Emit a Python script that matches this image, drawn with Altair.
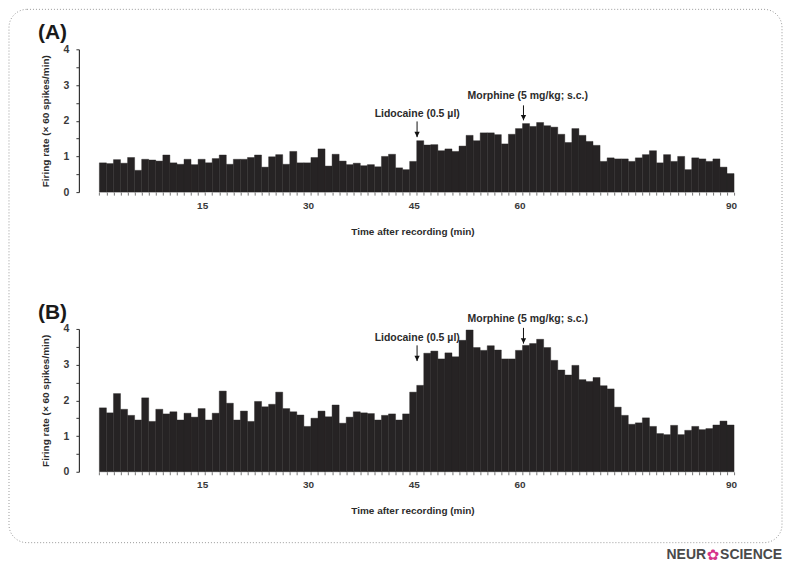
import altair as alt
import pandas as pd

# ---- data -------------------------------------------------------------
minutes = list(range(1, 91))

rate_a = [0.82, 0.80, 0.91, 0.81, 0.97, 0.61, 0.92, 0.90, 0.87, 1.04,
          0.82, 0.78, 0.92, 0.77, 0.92, 0.82, 0.94, 1.04, 0.78, 0.92,
          0.92, 0.97, 1.04, 0.70, 0.99, 1.05, 0.78, 1.14, 0.82, 0.82,
          0.97, 1.21, 0.73, 1.06, 0.87, 0.77, 0.81, 0.74, 0.77, 0.71,
          1.00, 1.06, 0.68, 0.63, 0.86, 1.44, 1.32, 1.33, 1.16, 1.21,
          1.14, 1.29, 1.59, 1.44, 1.66, 1.66, 1.61, 1.35, 1.62, 1.78,
          1.92, 1.84, 1.95, 1.86, 1.82, 1.62, 1.39, 1.78, 1.59, 1.42,
          1.31, 0.86, 0.96, 0.93, 0.93, 0.86, 0.96, 1.05, 1.16, 0.82,
          1.05, 0.86, 1.00, 0.63, 0.96, 0.93, 0.86, 0.93, 0.70, 0.52]

rate_b = [1.79, 1.65, 2.19, 1.75, 1.58, 1.45, 2.07, 1.41, 1.75, 1.62,
          1.68, 1.45, 1.64, 1.53, 1.77, 1.45, 1.64, 2.26, 1.92, 1.45,
          1.70, 1.41, 1.97, 1.82, 1.89, 2.23, 1.77, 1.68, 1.59, 1.27,
          1.50, 1.70, 1.54, 1.87, 1.36, 1.53, 1.68, 1.65, 1.63, 1.45,
          1.58, 1.62, 1.45, 1.62, 2.23, 2.42, 3.32, 3.38, 3.16, 3.33,
          3.22, 3.68, 3.97, 3.48, 3.40, 3.53, 3.41, 3.16, 3.16, 3.40,
          3.54, 3.59, 3.71, 3.48, 3.12, 2.85, 2.71, 2.98, 2.58, 2.53,
          2.64, 2.41, 2.32, 1.81, 1.58, 1.33, 1.37, 1.51, 1.27, 1.07,
          1.04, 1.30, 1.04, 1.16, 1.27, 1.18, 1.21, 1.31, 1.42, 1.31]

x_tick_labels = [15, 30, 45, 60, 90]
y_ticks = [0, 0.5, 1, 1.5, 2, 2.5, 3, 3.5, 4]

ann_labels = ["Lidocaine (0.5 \u00b5l)", "Morphine (5 mg/kg; s.c.)"]
ann_arrow_x = [45.05, 60.14]
ann_text_x = [45.07, 60.75]
# panel A
ann_a_text_y = [2.19, 2.68]
ann_a_top = [1.98, 2.43]
ann_a_tip = [1.54, 2.01]
# panel B
ann_b_text_y = [3.75, 4.28]
ann_b_top = [3.54, 4.03]
ann_b_tip = [3.10, 3.59]

panel_labels = ["(A)", "(B)"]
logo_parts = ["NEUR", "\u273f", "SCIENCE"]

# ---- styling ----------------------------------------------------------
BAR = "#262324"
TXT = "#2b2b2b"
FONT = "Liberation Sans, Arial"
W, H = 656, 143
X_DOMAIN = [-2.9, 90]

label_expr_x = ("indexof([" + ",".join(str(v) for v in x_tick_labels) +
                "], datum.value) >= 0 ? datum.label : ''")

X_AXIS = alt.Axis(
    values=list(range(0, 91)), labelExpr=label_expr_x, labelOverlap=False,
    labelFlush=False, labelBound=False, domain=False, grid=False, ticks=True,
    tickSize=3, tickColor="#777777", tickWidth=1, labelPadding=5, labelOffset=-3,
    labelFont=FONT, labelFontSize=10, labelFontWeight="bold", labelColor="#3a3a3a",
    title="Time after recording  (min)", titleFont=FONT, titleFontSize=10,
    titleFontWeight="bold", titleColor=TXT, titlePadding=16, titleX=334)

Y_AXIS = alt.Axis(
    values=y_ticks, labelExpr="datum.value % 1 == 0 ? format(datum.value, 'd') : ''",
    labelOverlap=False, labelBound=False, grid=False, domain=True,
    domainColor="#333333", domainWidth=1.2, tickSize=3, tickColor="#333333",
    tickWidth=1, labelPadding=7, labelFont=FONT, labelFontSize=10.5,
    labelFontWeight="bold", labelColor="#3a3a3a",
    title="Firing rate (\u00d7 60 spikes/min)", titleFont=FONT, titleFontSize=10,
    titleFontWeight="bold", titleColor=TXT, titlePadding=13)


def panel(rates, text_y, top_y, tip_y, plabel, with_frame):
    df = pd.DataFrame({"t0": [m - 1 for m in minutes], "t1": minutes, "rate": rates})
    xs = alt.Scale(domain=X_DOMAIN, nice=False, zero=False)
    ys = alt.Scale(domain=[0, 4], nice=False)

    bars = alt.Chart(df).mark_rect(color=BAR, stroke=BAR, strokeWidth=0.4).encode(
        x=alt.X("t0:Q", scale=xs, axis=X_AXIS),
        x2="t1:Q",
        y=alt.Y("rate:Q", scale=ys, axis=Y_AXIS),
        y2=alt.datum(0),
    )

    adf = pd.DataFrame({"label": ann_labels, "xa": ann_arrow_x, "xt": ann_text_x,
                        "yt": text_y, "ytop": top_y, "ytip": tip_y})
    base = alt.Chart(adf)
    texts = base.mark_text(font=FONT, fontSize=10.5, fontWeight="bold", color=TXT,
                           baseline="middle", align="center").encode(
        x=alt.X("xt:Q", scale=xs, axis=X_AXIS), y=alt.Y("yt:Q", scale=ys, axis=Y_AXIS),
        text="label:N")
    rules = base.mark_rule(color="#111111", strokeWidth=1).encode(
        x=alt.X("xa:Q", scale=xs, axis=X_AXIS), y=alt.Y("ytop:Q", scale=ys, axis=Y_AXIS),
        y2="ytip:Q")
    heads = base.mark_point(shape="M-1,-2L1,-2L0,0Z", filled=True, size=28,
                            color="#111111", opacity=1).encode(
        x=alt.X("xa:Q", scale=xs, axis=X_AXIS), y=alt.Y("ytip:Q", scale=ys, axis=Y_AXIS))

    pl = alt.Chart(pd.DataFrame({"t": [plabel]})).mark_text(
        font=FONT, fontSize=21, fontWeight="bold", color="#1a1a1a",
        align="left", baseline="alphabetic").encode(
        x=alt.value(-41), y=alt.value(-10), text="t:N")

    layers = [bars, rules, heads, texts, pl]

    if with_frame:
        one = pd.DataFrame({"k": [0]})
        frame = alt.Chart(one).mark_rect(
            fillOpacity=0, stroke="#9a9a9a", strokeWidth=1, strokeDash=[1, 2],
            cornerRadius=18).encode(
            x=alt.value(-70), x2=alt.value(704), y=alt.value(-40), y2=alt.value(494))
        logo = pd.DataFrame({"t": logo_parts})
        logo_l = alt.Chart(logo.iloc[[0]]).mark_text(
            font=FONT, fontSize=14, fontWeight="bold", align="right",
            color="#4a4a4a").encode(x=alt.value(628), y=alt.value(506), text="t:N")
        logo_m = alt.Chart(logo.iloc[[1]]).mark_text(
            font="DejaVu Sans", fontSize=15, align="center",
            color="#d6338a").encode(x=alt.value(635), y=alt.value(506), text="t:N")
        logo_r = alt.Chart(logo.iloc[[2]]).mark_text(
            font=FONT, fontSize=14, fontWeight="bold", align="left",
            color="#4a4a4a").encode(x=alt.value(642), y=alt.value(506), text="t:N")
        layers = [frame] + layers + [logo_l, logo_m, logo_r]

    return alt.layer(*layers).properties(width=W, height=H)


chart_a = panel(rate_a, ann_a_text_y, ann_a_top, ann_a_tip, panel_labels[0], True)
chart_b = panel(rate_b, ann_b_text_y, ann_b_top, ann_b_tip, panel_labels[1], False)

chart = alt.vconcat(chart_a, chart_b, spacing=137, bounds="flush").properties(
    padding=0, background="white"
).configure_view(strokeWidth=0).configure_axis(labelOverlap=False)

chart.save("out.html", embed_options={"renderer": "svg", "actions": False})
